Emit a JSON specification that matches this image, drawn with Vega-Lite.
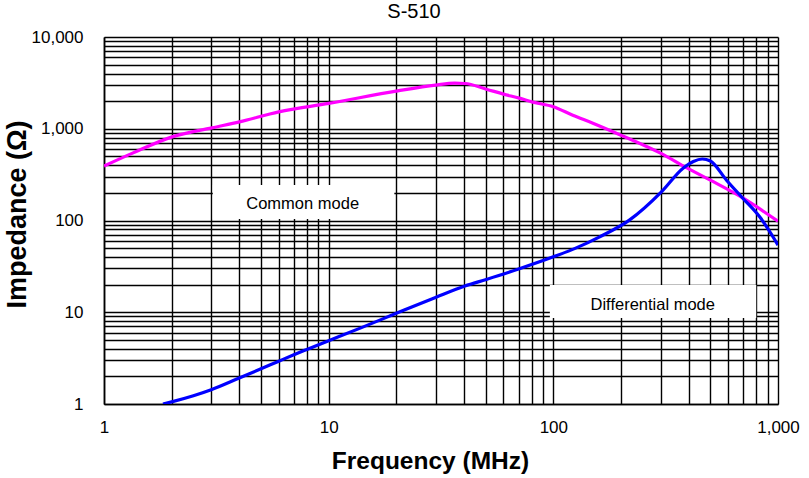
{
  "$schema": "https://vega.github.io/schema/vega-lite/v6.json",
  "width": 674,
  "height": 367,
  "autosize": "none",
  "padding": {"left": 104, "top": 37, "right": 31, "bottom": 74},
  "background": "white",
  "title": {"text": "S-510", "font": "Liberation Sans", "fontSize": 20, "fontWeight": "normal", "color": "#000", "anchor": "middle", "dx": -27, "offset": 6},
  "config": {"view": {"stroke": null}},
  "datasets": {
    "curves": [
      {"mode": "Common", "f": 1, "z": 392},
      {"mode": "Common", "f": 1.34, "z": 542},
      {"mode": "Common", "f": 2.01, "z": 816},
      {"mode": "Common", "f": 3.02, "z": 1023},
      {"mode": "Common", "f": 4.01, "z": 1190},
      {"mode": "Common", "f": 6.0, "z": 1528},
      {"mode": "Common", "f": 10, "z": 1887},
      {"mode": "Common", "f": 20.3, "z": 2588},
      {"mode": "Common", "f": 29.9, "z": 2987},
      {"mode": "Common", "f": 36.4, "z": 3140},
      {"mode": "Common", "f": 40.4, "z": 3115},
      {"mode": "Common", "f": 50.3, "z": 2700},
      {"mode": "Common", "f": 60, "z": 2385},
      {"mode": "Common", "f": 70.6, "z": 2155},
      {"mode": "Common", "f": 81, "z": 1950},
      {"mode": "Common", "f": 100, "z": 1740},
      {"mode": "Common", "f": 122, "z": 1405},
      {"mode": "Common", "f": 150, "z": 1150},
      {"mode": "Common", "f": 200, "z": 851},
      {"mode": "Common", "f": 300, "z": 542},
      {"mode": "Common", "f": 395, "z": 372},
      {"mode": "Common", "f": 500, "z": 275},
      {"mode": "Common", "f": 700, "z": 175},
      {"mode": "Common", "f": 1000, "z": 98},
      {"mode": "Differential", "f": 1.83, "z": 1.0},
      {"mode": "Differential", "f": 2, "z": 1.055},
      {"mode": "Differential", "f": 2.5, "z": 1.23},
      {"mode": "Differential", "f": 3, "z": 1.43},
      {"mode": "Differential", "f": 4, "z": 1.92},
      {"mode": "Differential", "f": 5, "z": 2.42},
      {"mode": "Differential", "f": 6, "z": 2.93},
      {"mode": "Differential", "f": 7, "z": 3.44},
      {"mode": "Differential", "f": 8, "z": 3.93},
      {"mode": "Differential", "f": 10, "z": 4.89},
      {"mode": "Differential", "f": 14, "z": 6.8},
      {"mode": "Differential", "f": 20, "z": 9.73},
      {"mode": "Differential", "f": 29.9, "z": 14.5},
      {"mode": "Differential", "f": 40.4, "z": 19.3},
      {"mode": "Differential", "f": 50.3, "z": 22.8},
      {"mode": "Differential", "f": 70.6, "z": 29.8},
      {"mode": "Differential", "f": 100, "z": 40.2},
      {"mode": "Differential", "f": 125, "z": 49.7},
      {"mode": "Differential", "f": 160, "z": 66},
      {"mode": "Differential", "f": 218, "z": 101},
      {"mode": "Differential", "f": 302, "z": 204},
      {"mode": "Differential", "f": 378, "z": 372},
      {"mode": "Differential", "f": 420, "z": 440},
      {"mode": "Differential", "f": 460, "z": 468},
      {"mode": "Differential", "f": 500, "z": 445},
      {"mode": "Differential", "f": 590, "z": 275},
      {"mode": "Differential", "f": 697, "z": 175},
      {"mode": "Differential", "f": 830, "z": 109},
      {"mode": "Differential", "f": 1000, "z": 54}
    ],
    "boxes": [
      {"label": "Common mode", "f1": 3.05, "f2": 19.6, "z1": 104, "z2": 243, "fc": 7.66, "zc": 151},
      {"label": "Differential mode", "f1": 96.5, "f2": 800, "z1": 8.65, "z2": 19.8, "fc": 277, "zc": 12.0}
    ]
  },
  "layer": [
    {
      "data": {"name": "boxes"},
      "mark": {"type": "rect", "fill": "white", "stroke": null},
      "encoding": {
        "x": {"field": "f1", "type": "quantitative", "scale": {"type": "log", "domain": [1, 1000]},
          "axis": {
            "values": [1,2,3,4,5,6,7,8,9,10,20,30,40,50,60,70,80,90,100,200,300,400,500,600,700,800,900,1000],
            "labelExpr": "(datum.value == 1 || datum.value == 10 || datum.value == 100 || datum.value == 1000) ? format(datum.value, ',') : ''",
            "labelOverlap": false, "labelBound": false, "labelFlush": false,
            "grid": true, "gridColor": "#000", "gridWidth": 1.4, "gridOpacity": 1,
            "ticks": false, "tickSize": 0,
            "domain": true, "domainColor": "#000", "domainWidth": 1.6,
            "labelFont": "Liberation Sans", "labelFontSize": 17, "labelColor": "#000", "labelPadding": 15,
            "title": "Frequency (MHz)", "titleFont": "Liberation Sans", "titleFontSize": 24.5, "titleFontWeight": "bold", "titleColor": "#000",
            "titleBaseline": "alphabetic", "titleX": 326, "titleY": 64
          }
        },
        "x2": {"field": "f2"},
        "y": {"field": "z1", "type": "quantitative", "scale": {"type": "log", "domain": [1, 10000]},
          "axis": {
            "values": [1,2,3,4,5,6,7,8,9,10,20,30,40,50,60,70,80,90,100,200,300,400,500,600,700,800,900,1000,2000,3000,4000,5000,6000,7000,8000,9000,10000],
            "labelExpr": "(datum.value == 1 || datum.value == 10 || datum.value == 100 || datum.value == 1000 || datum.value == 10000) ? format(datum.value, ',') : ''",
            "labelOverlap": false, "labelBound": false, "labelFlush": false,
            "grid": true, "gridColor": "#000", "gridWidth": 1.4, "gridOpacity": 1,
            "ticks": false, "tickSize": 0,
            "domain": true, "domainColor": "#000", "domainWidth": 1.6,
            "labelFont": "Liberation Sans", "labelFontSize": 17, "labelColor": "#000", "labelPadding": 21,
            "title": "Impedance (Ω)", "titleFont": "Liberation Sans", "titleFontSize": 27, "titleFontWeight": "bold", "titleColor": "#000",
            "titleBaseline": "alphabetic", "titleAngle": -90, "titleX": -79, "titleY": 177
          }
        },
        "y2": {"field": "z2"}
      }
    },
    {
      "data": {"name": "boxes"},
      "mark": {"type": "text", "font": "Liberation Sans", "fontSize": 16.5, "color": "#000", "align": "center", "baseline": "middle"},
      "encoding": {
        "x": {"field": "fc", "type": "quantitative"},
        "y": {"field": "zc", "type": "quantitative"},
        "text": {"field": "label"}
      }
    },
    {
      "data": {"name": "curves"},
      "mark": {"type": "line", "interpolate": "monotone", "strokeWidth": 3.2, "clip": true},
      "encoding": {
        "x": {"field": "f", "type": "quantitative"},
        "y": {"field": "z", "type": "quantitative"},
        "color": {"field": "mode", "type": "nominal", "scale": {"domain": ["Common", "Differential"], "range": ["#ff00ff", "#0000ff"]}, "legend": null}
      }
    }
  ]
}
